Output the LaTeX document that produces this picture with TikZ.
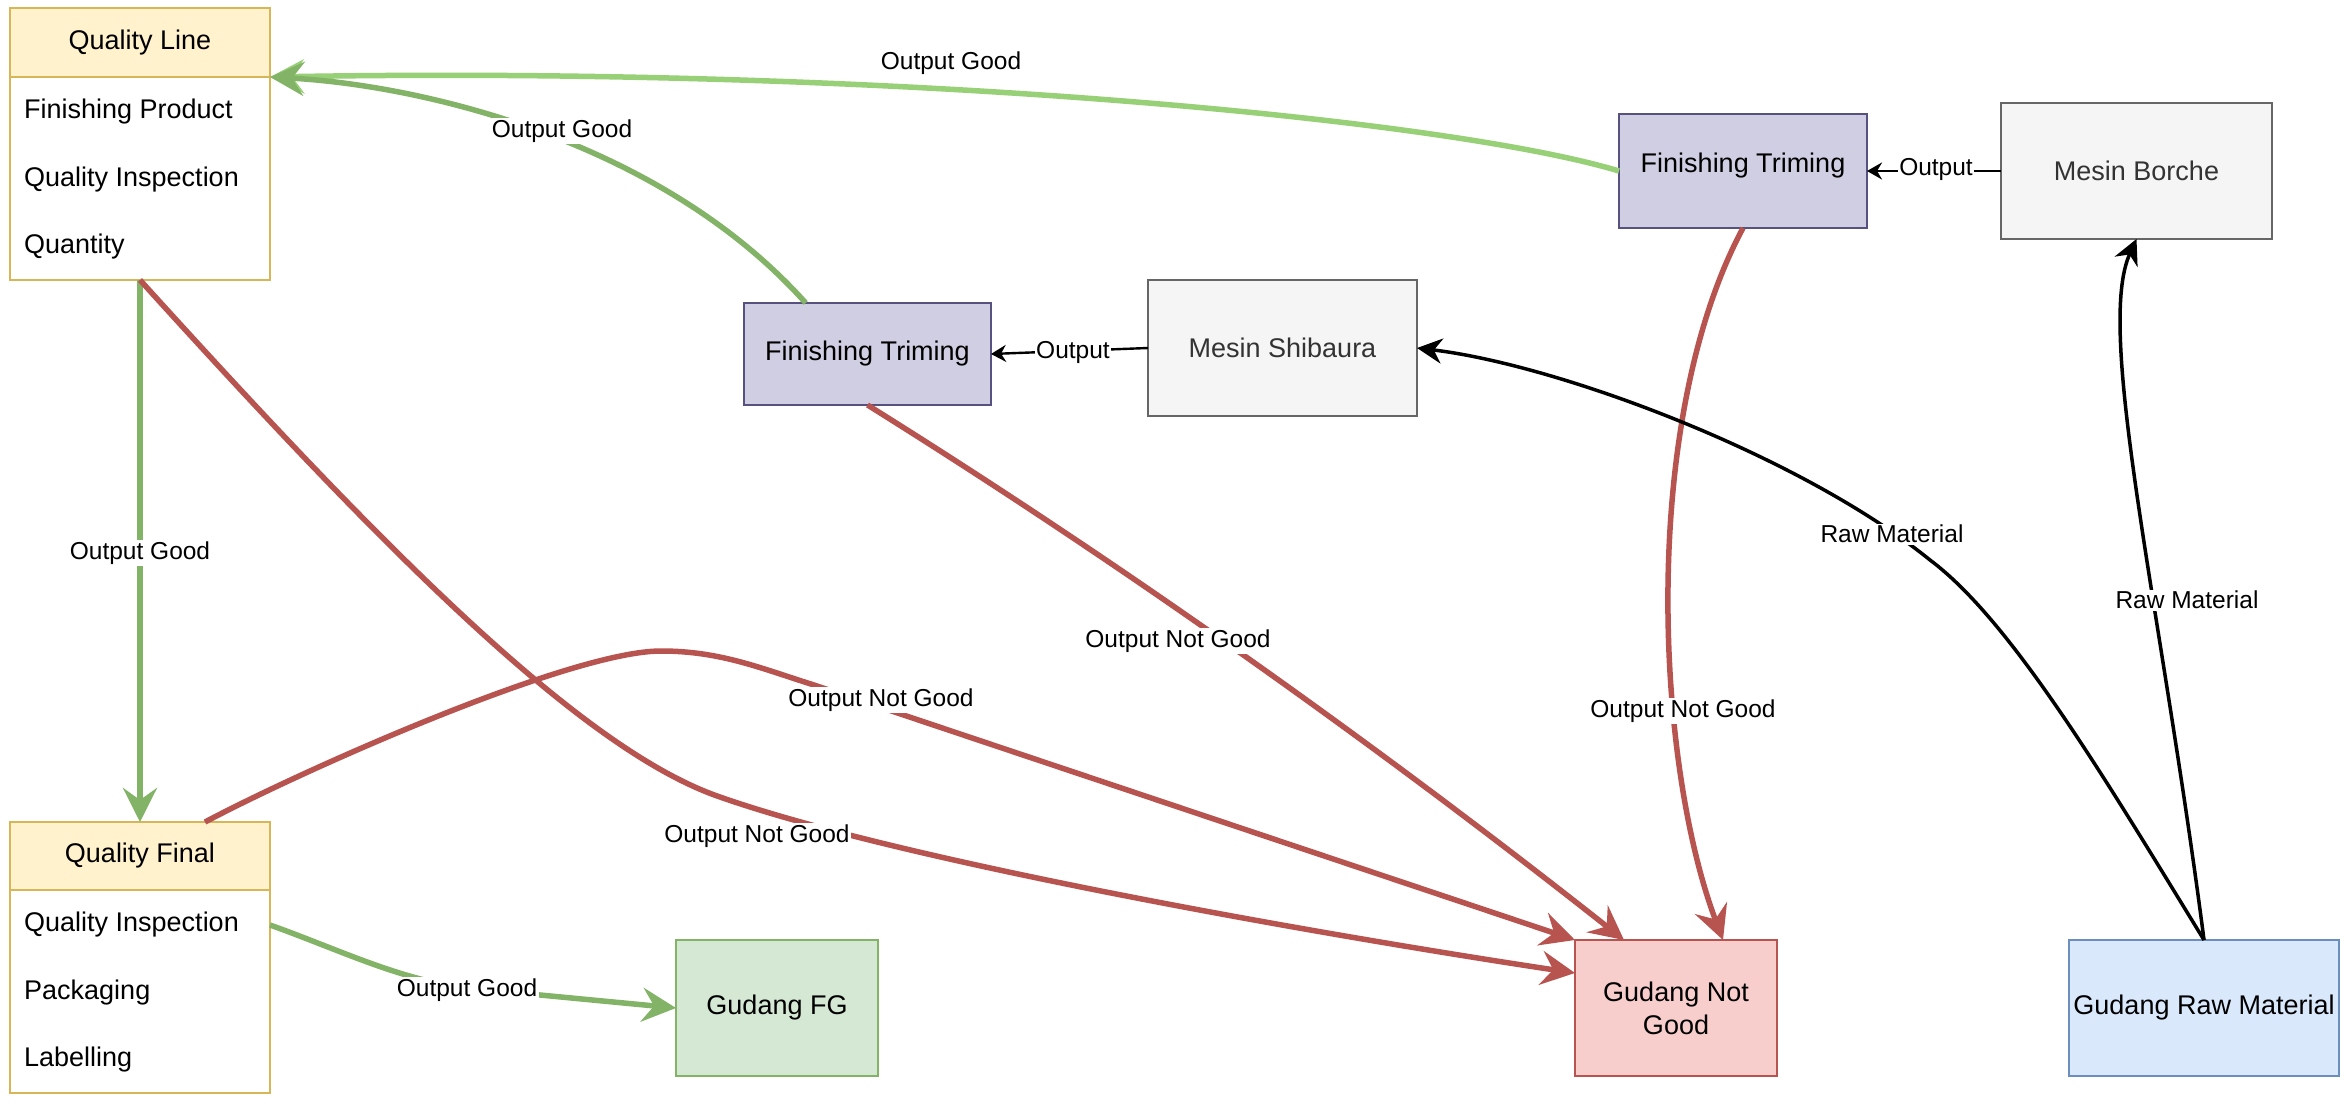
\documentclass[tikz,border=0pt]{standalone}
\usepackage{fontspec}
\setmainfont{Liberation Sans}
\usetikzlibrary{arrows.meta,calc}
\definecolor{ylwF}{HTML}{FFF2CC}
\definecolor{ylwD}{HTML}{D6B656}
\definecolor{purF}{HTML}{D0CEE2}
\definecolor{purD}{HTML}{56517E}
\definecolor{gryF}{HTML}{F5F5F5}
\definecolor{gryD}{HTML}{666666}
\definecolor{gryT}{HTML}{333333}
\definecolor{grnF}{HTML}{D5E8D4}
\definecolor{grnD}{HTML}{82B366}
\definecolor{grnL}{HTML}{97D077}
\definecolor{redF}{HTML}{F8CECC}
\definecolor{redD}{HTML}{B85450}
\definecolor{bluF}{HTML}{DAE8FC}
\definecolor{bluD}{HTML}{6C8EBF}
\newcommand\bxfont{\fontsize{27}{33}\selectfont}
\newcommand\lbfont{\fontsize{24.5}{29}\selectfont}
\begin{document}
\begin{tikzpicture}[x=1pt,y=-1pt,
  box/.style={draw, line width=2pt, inner sep=0pt, outer sep=0pt, align=center, font=\bxfont},
  rowtxt/.style={anchor=west, inner sep=0pt, font=\bxfont},
  lbl/.style={fill=white, inner sep=1.5pt, font=\lbfont},
  bigtip/.style={-{Stealth[length=34pt,width=34pt,inset=12pt]}},
  gdedge/.style={draw=grnD, line width=5.5pt, bigtip, color=grnD},
  gledge/.style={draw=grnL, line width=5.5pt, bigtip, color=grnL},
  rdedge/.style={draw=redD, line width=5.5pt, bigtip, color=redD},
  bkedge/.style={draw=black, line width=3.5pt, -{Stealth[length=25pt,width=25pt,inset=8pt]}},
  outedge/.style={draw=black, line width=2.4pt, -{Stealth[length=15pt,width=17pt,inset=5pt]}}
]
\fill[white] (0,0) rectangle (2350,1108);
\useasboundingbox (0,0) rectangle (2350,1108);

% Quality Line
\node[box, draw=ylwD, fill=white, minimum width=260pt, minimum height=272pt] (QL) at (140,144) {};
\node[box, draw=ylwD, fill=ylwF, minimum width=260pt, minimum height=69pt] (QLh) at (140,42.5) {Quality Line};
\node[rowtxt] (QLr1) at (24,112) {Finishing Product};
\node[rowtxt] (QLr2) at (24,180) {Quality Inspection};
\node[rowtxt] (QLr3) at (24,247) {Quantity};

% Quality Final
\node[box, draw=ylwD, fill=white, minimum width=260pt, minimum height=271pt] (QF) at (140,957.5) {};
\node[box, draw=ylwD, fill=ylwF, minimum width=260pt, minimum height=68pt] (QFh) at (140,856) {Quality Final};
\node[rowtxt] (QFr1) at (24,925) {Quality Inspection};
\node[rowtxt] (QFr2) at (24,993) {Packaging};
\node[rowtxt] (QFr3) at (24,1060) {Labelling};

% Other boxes
\node[box, draw=purD, fill=purF, minimum width=247pt, minimum height=102pt] (FT1) at (867.5,354) {Finishing Triming};
\node[box, draw=gryD, fill=gryF, text=gryT, minimum width=269pt, minimum height=136pt] (MS) at (1282.5,348) {Mesin Shibaura};
\node[box, draw=purD, fill=purF, minimum width=248pt, minimum height=114pt] (FT2) at (1743,171) {};
\node[inner sep=0pt, font=\bxfont] (FT2t) at (1743,166) {Finishing Triming};
\node[box, draw=gryD, fill=gryF, text=gryT, minimum width=271pt, minimum height=136pt] (MB) at (2136.5,171) {Mesin Borche};
\node[box, draw=grnD, fill=grnF, minimum width=202pt, minimum height=136pt] (GFG) at (777,1008) {Gudang FG};
\node[box, draw=redD, fill=redF, minimum width=202pt, minimum height=136pt] (GNG) at (1676,1008) {Gudang Not\\Good};
\node[box, draw=bluD, fill=bluF, minimum width=270pt, minimum height=136pt] (GRM) at (2204,1008) {Gudang Raw Material};

% Green edges
\draw[gledge] (FT2.west) .. controls (1450,120) and (900,66) .. (QLh.south east);
\draw[gdedge] ($(FT1.north west)!0.25!(FT1.north east)$) .. controls (660,140) and (420,85) .. (QLh.south east);
\draw[gdedge] (QL.south) -- (QFh.north);
\draw[gdedge] (QF.east |- QFr1) .. controls (340,950) and (400,980) .. (467,988) -- (GFG.west);

% Red edges
\draw[rdedge] (QL.south) .. controls (380,545) and (580,749) .. (720,797) .. controls (920,867) and (1375,943) .. ([yshift=35pt]GNG.west);
\draw[rdedge] ([xshift=-65pt]QFh.north east) .. controls (305,769) and (571,651) .. (661,651) .. controls (720,651) and (760,668) .. (814,685) -- (GNG.north west);
\draw[rdedge] (FT1.south) .. controls (1119,562) and (1372,741) .. ([xshift=49pt]GNG.north west);
\draw[rdedge] (FT2.south) .. controls (1640,420) and (1655,760) .. ([xshift=47pt]GNG.north);

% Black edges
\draw[outedge] (MS.west) -- (FT1.east);
\draw[outedge] (MB.west) -- (FT2.east);
\draw[bkedge] (GRM.north) .. controls (2100,770) and (2010,620) .. (1930,560) .. controls (1800,455) and (1559,365) .. (MS.east);
\draw[bkedge] (GRM.north) .. controls (2160,600) and (2095,330) .. (MB.south);

% Labels
\node[lbl] (l1) at (951,63) {Output Good};
\node[lbl] (l2) at (562,131) {Output Good};
\node[lbl] (l3) at (140,553) {Output Good};
\node[lbl] (l4) at (757,836) {Output Not Good};
\node[lbl] (l5) at (881,700) {Output Not Good};
\node[lbl] (l6) at (1178,641) {Output Not Good};
\node[lbl] (l7) at (1683,711) {Output Not Good};
\node[lbl] (l8) at (1073,352) {Output};
\node[lbl] (l9) at (1936,169) {Output};
\node[lbl] (l10) at (1892,534) {Raw Material};
\node[lbl] (l11) at (2187,600) {Raw Material};
\node[lbl] (l12) at (467,990) {Output Good};
\end{tikzpicture}
\end{document}
